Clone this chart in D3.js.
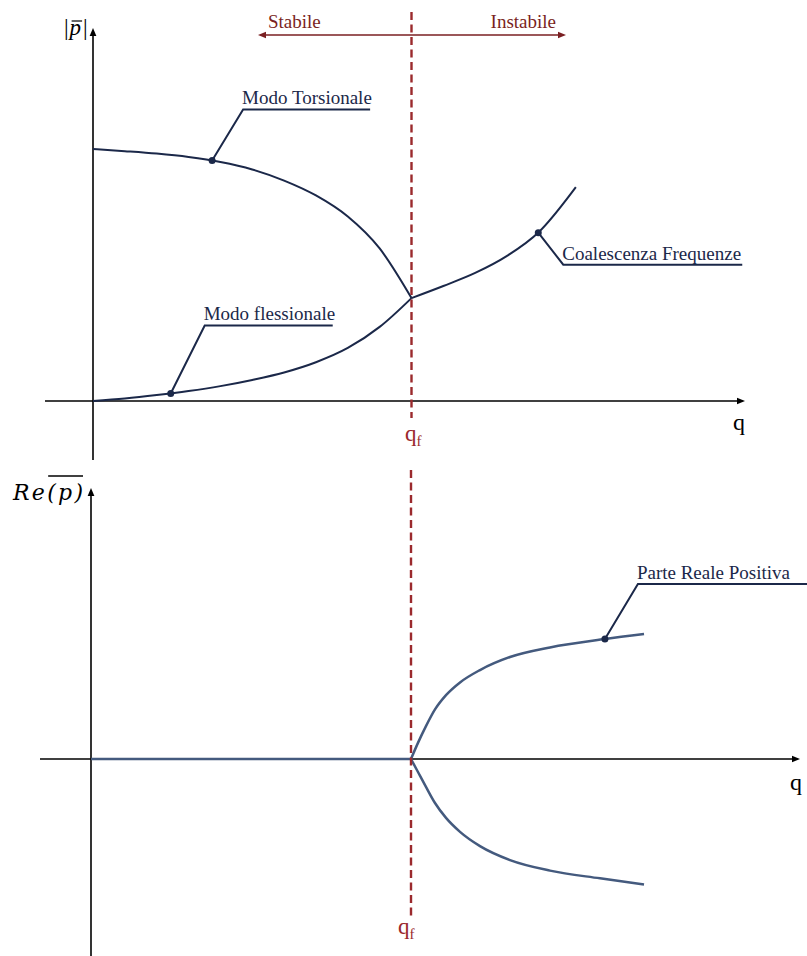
<!DOCTYPE html>
<html>
<head>
<meta charset="utf-8">
<script src="https://cdn.jsdelivr.net/npm/d3@7/dist/d3.min.js"></script>
<style>
  html, body { margin: 0; padding: 0; background: #fff; }
  svg { display: block; }
</style>
</head>
<body>
<svg id="chart" width="807" height="956"></svg>
<script>
// ---- data ----
// flutter speed (both panels)
const qFlutter = 5;

// upper panel: modulus of the eigenvalues |p| versus q
const torsQ = [0, 0.5, 1, 1.5, 2, 2.5, 3, 3.5, 4, 4.5, 5];
const torsP = [8.13, 8.06, 7.98, 7.87, 7.71, 7.47, 7.11, 6.63, 5.95, 4.92, 3.32];
const flexQ = [0, 0.5, 1, 1.5, 2, 2.5, 3, 3.5, 4, 4.5, 5];
const flexP = [0, 0.08, 0.19, 0.32, 0.48, 0.68, 0.92, 1.25, 1.71, 2.39, 3.32];
const coalQ = [5, 5.5, 6, 6.5, 7, 7.5, 7.58];
const coalP = [3.32, 3.71, 4.13, 4.68, 5.45, 6.68, 6.90];

// lower panel: real part of the eigenvalues versus q
const stabQ = [0, 5];
const stabRe = [0, 0];
const posQ = [5, 5.109, 5.234, 5.375, 5.547, 5.766, 6.078, 6.547, 7.172, 8.031, 8.641];
const posRe = [0, 0.52, 1.06, 1.60, 2.06, 2.47, 2.87, 3.29, 3.60, 3.87, 4.03];
const negQ = [5, 5.109, 5.234, 5.375, 5.547, 5.766, 6.078, 6.547, 7.172, 7.953, 8.641];
const negRe = [0, -0.42, -0.90, -1.42, -1.90, -2.35, -2.81, -3.26, -3.60, -3.85, -4.05];

// labels and the q value each callout points at
const regionLabels = ["Stabile", "Instabile"];
const annotationTexts = ["Modo Torsionale", "Modo flessionale", "Coalescenza Frequenze", "Parte Reale Positiva"];
const annotationQ = [1.87, 1.22, 6.99, 8.03];

// ---- styling ----
const NAVY = "#1b2849";
const STEEL = "#445a7e";
const RED = "#9b2a2d";
const DARKRED = "#7a1f22";
const SERIF = "'Liberation Serif', 'Times New Roman', serif";

const svg = d3.select("#chart");
svg.append("rect").attr("width", 807).attr("height", 956).attr("fill", "#fff");

// ---- scales ----
const xTop = d3.scaleLinear().domain([0, qFlutter]).range([93, 411.5]);
const yTop = d3.scaleLinear().domain([0, 10]).range([401, 91]);
const xBot = d3.scaleLinear().domain([0, qFlutter]).range([91, 411]);
const yBot = d3.scaleLinear().domain([0, 4]).range([759, 635]);

const zip = (a, b) => a.map((v, i) => [v, b[i]]);

// arrowhead helper
function arrowHead(g, x, y, dir, size, color) {
  const L = size, W = size * 0.42;
  let pts;
  if (dir === "up") pts = [[x, y], [x - W, y + L], [x + W, y + L]];
  else if (dir === "right") pts = [[x, y], [x - L, y - W], [x - L, y + W]];
  else pts = [[x, y], [x + L, y - W], [x + L, y + W]];
  g.append("path").attr("d", "M" + pts.map(p => p.join(",")).join("L") + "Z").attr("fill", color);
}

// ---- axes ----
function drawAxes(g, xs, ys, xExt, yExt, color) {
  g.append("line").attr("x1", xs(xExt[0])).attr("x2", xs(xExt[1]) - 6)
    .attr("y1", ys(0)).attr("y2", ys(0)).attr("stroke", color).attr("stroke-width", 1.6);
  arrowHead(g, xs(xExt[1]), ys(0), "right", 8, color);
  g.append("line").attr("x1", xs(0)).attr("x2", xs(0))
    .attr("y1", ys(yExt[0])).attr("y2", ys(yExt[1]) + 6).attr("stroke", color).attr("stroke-width", 1.6);
  arrowHead(g, xs(0), ys(yExt[1]), "up", 8, color);
}

const gTop = svg.append("g");
const gBot = svg.append("g");
drawAxes(gTop, xTop, yTop, [xTop.invert(45), xTop.invert(745)], [yTop.invert(460), yTop.invert(28)], "#000");
drawAxes(gBot, xBot, yBot, [xBot.invert(40), xBot.invert(800)], [yBot.invert(956), yBot.invert(488)], "#000");

// axis titles
gTop.append("text").attr("x", 733).attr("y", 430).attr("font-family", SERIF)
  .attr("font-size", 24).attr("fill", "#000").text("q");
gBot.append("text").attr("x", 790).attr("y", 790).attr("font-family", SERIF)
  .attr("font-size", 24).attr("fill", "#000").text("q");

// |p| title
const pTitle = gTop.append("text").attr("x", 64).attr("y", 35).attr("font-family", SERIF)
  .attr("font-size", 23).attr("fill", "#000");
pTitle.append("tspan").text("|");
pTitle.append("tspan").attr("font-style", "italic").attr("dx", 1).text("p");
pTitle.append("tspan").attr("dx", 2).text("|");
{
  const e = pTitle.node().getExtentOfChar(1);
  gTop.append("line").attr("x1", e.x + 2).attr("x2", e.x + e.width + 1)
    .attr("y1", 21).attr("y2", 21).attr("stroke", "#000").attr("stroke-width", 1.2);
}

// Re(p) title
const reTitle = gBot.append("text").attr("x", 13).attr("y", 500)
  .attr("font-family", "'DejaVu Serif', serif").attr("font-style", "italic")
  .attr("font-size", 22).attr("fill", "#000").attr("textLength", 70).attr("lengthAdjust", "spacing")
  .text("Re(p)");
{
  const a = reTitle.node().getExtentOfChar(2);
  const b = reTitle.node().getExtentOfChar(4);
  gBot.append("line").attr("x1", a.x + 1).attr("x2", b.x + b.width)
    .attr("y1", 476).attr("y2", 476).attr("stroke", "#000").attr("stroke-width", 1.3);
}

// ---- flutter line and labels ----
svg.append("line").attr("x1", xTop(qFlutter)).attr("x2", xTop(qFlutter))
  .attr("y1", 12).attr("y2", 418).attr("stroke", RED).attr("stroke-width", 2.4)
  .attr("stroke-dasharray", "8,4.5");
svg.append("line").attr("x1", xBot(qFlutter)).attr("x2", xBot(qFlutter))
  .attr("y1", 470).attr("y2", 916).attr("stroke", RED).attr("stroke-width", 2.4)
  .attr("stroke-dasharray", "8,4.5");

function qfLabel(g, x, y) {
  const t = g.append("text").attr("x", x).attr("y", y).attr("font-family", SERIF)
    .attr("font-size", 23).attr("fill", RED);
  t.append("tspan").text("q");
  t.append("tspan").attr("font-size", 15).attr("dy", 5).text("f");
}
qfLabel(gTop, 405, 441);
qfLabel(gBot, 398, 934);

// Stabile / Instabile arrow
{
  const yA = 35;
  gTop.append("line").attr("x1", 264).attr("x2", 560).attr("y1", yA).attr("y2", yA)
    .attr("stroke", DARKRED).attr("stroke-width", 1.6);
  arrowHead(gTop, 258, yA, "left", 8, DARKRED);
  arrowHead(gTop, 566, yA, "right", 8, DARKRED);
  gTop.append("text").attr("x", 268).attr("y", 28).attr("font-family", SERIF)
    .attr("font-size", 19).attr("fill", DARKRED).text(regionLabels[0]);
  gTop.append("text").attr("x", 556).attr("y", 28).attr("text-anchor", "end").attr("font-family", SERIF)
    .attr("font-size", 19).attr("fill", DARKRED).text(regionLabels[1]);
}

// ---- curves ----
const lineTop = d3.line().x(d => xTop(d[0])).y(d => yTop(d[1])).curve(d3.curveMonotoneX);
const lineBot = d3.line().x(d => xBot(d[0])).y(d => yBot(d[1])).curve(d3.curveMonotoneX);

const topPaths = [zip(torsQ, torsP), zip(flexQ, flexP), zip(coalQ, coalP)].map(d =>
  gTop.append("path").attr("d", lineTop(d)).attr("fill", "none")
    .attr("stroke", NAVY).attr("stroke-width", 2).node());
const botPaths = [zip(stabQ, stabRe), zip(posQ, posRe), zip(negQ, negRe)].map(d =>
  gBot.append("path").attr("d", lineBot(d)).attr("fill", "none")
    .attr("stroke", STEEL).attr("stroke-width", 2.5).node());

// point on a drawn curve at a given x (curves are monotone in x)
function pointAtX(pathNode, x) {
  let lo = 0, hi = pathNode.getTotalLength();
  for (let i = 0; i < 40; i++) {
    const mid = (lo + hi) / 2;
    if (pathNode.getPointAtLength(mid).x < x) lo = mid; else hi = mid;
  }
  return pathNode.getPointAtLength((lo + hi) / 2);
}

// ---- annotations ----
function annotate(g, pathNode, x, dx, dy, len, label) {
  const p = pointAtX(pathNode, x);
  const ex = p.x + dx, ey = p.y + dy;
  g.append("path").attr("d", `M${p.x},${p.y}L${ex},${ey}L${ex + len},${ey}`)
    .attr("fill", "none").attr("stroke", NAVY).attr("stroke-width", 2);
  g.append("circle").attr("cx", p.x).attr("cy", p.y).attr("r", 3.5).attr("fill", NAVY);
  g.append("text").attr("x", ex - 1).attr("y", ey - 5).attr("font-family", SERIF)
    .attr("font-size", 19).attr("fill", NAVY).text(label);
}
annotate(gTop, topPaths[0], xTop(annotationQ[0]), 31, -51, 127, annotationTexts[0]);
annotate(gTop, topPaths[1], xTop(annotationQ[1]), 34, -68, 128, annotationTexts[1]);
annotate(gTop, topPaths[2], xTop(annotationQ[2]), 25, 32, 179, annotationTexts[2]);
annotate(gBot, botPaths[1], xBot(annotationQ[3]), 33, -55, 190, annotationTexts[3]);
</script>
</body>
</html>
